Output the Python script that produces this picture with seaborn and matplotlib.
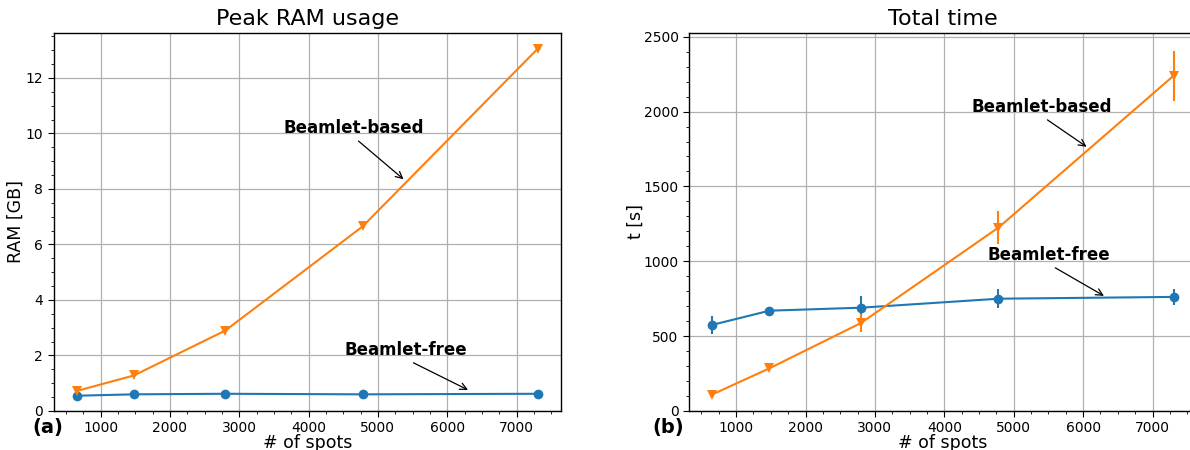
import numpy as np
import pandas as pd
import matplotlib
matplotlib.use("Agg")
import matplotlib.pyplot as plt
from matplotlib.ticker import AutoMinorLocator
import seaborn as sns

sns.set_style("ticks")
plt.rcParams["font.family"] = ["DejaVu Sans"]
plt.rcParams.update({"text.color": "black", "axes.labelcolor": "black",
                     "xtick.color": "black", "ytick.color": "black"})

# number of spots per plan
spots = [654, 1480, 2800, 4780, 7305]

# peak RAM [GB]
ram_free = [0.55, 0.60, 0.62, 0.60, 0.62]
ram_based = [0.72, 1.28, 2.90, 6.65, 13.05]

# total time [s] with standard deviation
time_free = [575, 670, 690, 750, 762]
time_free_err = [60, 25, 80, 65, 52]
time_based = [110, 285, 588, 1225, 2240]
time_based_err = [10, 12, 60, 110, 167]

BLUE = "#1f77b4"
ORANGE = "#ff7f0e"
ARROW = dict(arrowstyle="->", color="black", lw=0.9, relpos=(0.5, 0.0),
             shrinkA=1, shrinkB=0)


def style_axis(ax):
    ax.grid(True, which="major", color="#b0b0b0", linewidth=0.9)
    ax.xaxis.set_minor_locator(AutoMinorLocator(4))
    ax.tick_params(axis="both", which="major", labelsize=10, length=4)
    ax.tick_params(axis="both", which="minor", length=2)
    for s in ax.spines.values():
        s.set_visible(True)
        s.set_color("black")
        s.set_linewidth(1.0)
    ax.set_xlim(321, 7643)


def plot_ram(ax):
    df = pd.DataFrame({"spots": spots, "free": ram_free, "based": ram_based})
    sns.lineplot(data=df, x="spots", y="free", ax=ax, color=BLUE,
                 marker="o", markersize=7, markeredgewidth=0, linewidth=1.5)
    sns.lineplot(data=df, x="spots", y="based", ax=ax, color=ORANGE,
                 marker="v", markersize=7, markeredgewidth=0, linewidth=1.5)
    style_axis(ax)
    ax.yaxis.set_minor_locator(AutoMinorLocator(4))
    ax.set_ylim(0, 13.62)
    ax.set_title("Peak RAM usage", fontsize=16)
    ax.set_xlabel("# of spots", fontsize=12.5, labelpad=-1)
    ax.set_ylabel("RAM [GB]", fontsize=12.5)
    ax.yaxis.set_label_coords(-0.056, 0.5)
    ax.annotate("Beamlet-based", xy=(5370, 8.35), xytext=(4650, 10.2),
                fontsize=12, fontweight="bold", ha="center", va="center",
                arrowprops=ARROW)
    ax.annotate("Beamlet-free", xy=(6300, 0.76), xytext=(5400, 2.2),
                fontsize=12, fontweight="bold", ha="center", va="center",
                arrowprops=ARROW)


def plot_time(ax):
    df = pd.DataFrame({"spots": spots, "free": time_free, "based": time_based})
    sns.lineplot(data=df, x="spots", y="free", ax=ax, color=BLUE,
                 marker="o", markersize=7, markeredgewidth=0, linewidth=1.5)
    sns.lineplot(data=df, x="spots", y="based", ax=ax, color=ORANGE,
                 marker="v", markersize=7, markeredgewidth=0, linewidth=1.5)
    ax.errorbar(spots, time_free, yerr=time_free_err, fmt="none",
                ecolor=BLUE, elinewidth=1.5)
    ax.errorbar(spots, time_based, yerr=time_based_err, fmt="none",
                ecolor=ORANGE, elinewidth=1.5)
    style_axis(ax)
    ax.yaxis.set_minor_locator(AutoMinorLocator(5))
    ax.set_ylim(0, 2525)
    ax.set_title("Total time", fontsize=16)
    ax.set_xlabel("# of spots", fontsize=12.5, labelpad=-1)
    ax.set_ylabel("t [s]", fontsize=12.5)
    ax.yaxis.set_label_coords(-0.087, 0.5)
    ax.annotate("Beamlet-based", xy=(6050, 1765), xytext=(5400, 2032),
                fontsize=12, fontweight="bold", ha="center", va="center",
                arrowprops=ARROW)
    ax.annotate("Beamlet-free", xy=(6300, 769), xytext=(5500, 1043),
                fontsize=12, fontweight="bold", ha="center", va="center",
                arrowprops=ARROW)


fig = plt.figure(figsize=(11.9, 4.5), dpi=100)
ax1 = fig.add_axes([0.045, 0.0867, 0.4265, 0.84])
ax2 = fig.add_axes([0.579, 0.0867, 0.427, 0.84])
plot_ram(ax1)
plot_time(ax2)
fig.text(0.027, 0.038, "(a)", fontsize=14, fontweight="bold")
fig.text(0.548, 0.038, "(b)", fontsize=14, fontweight="bold")
fig.savefig("out.png", dpi=100)
plt.close(fig)
